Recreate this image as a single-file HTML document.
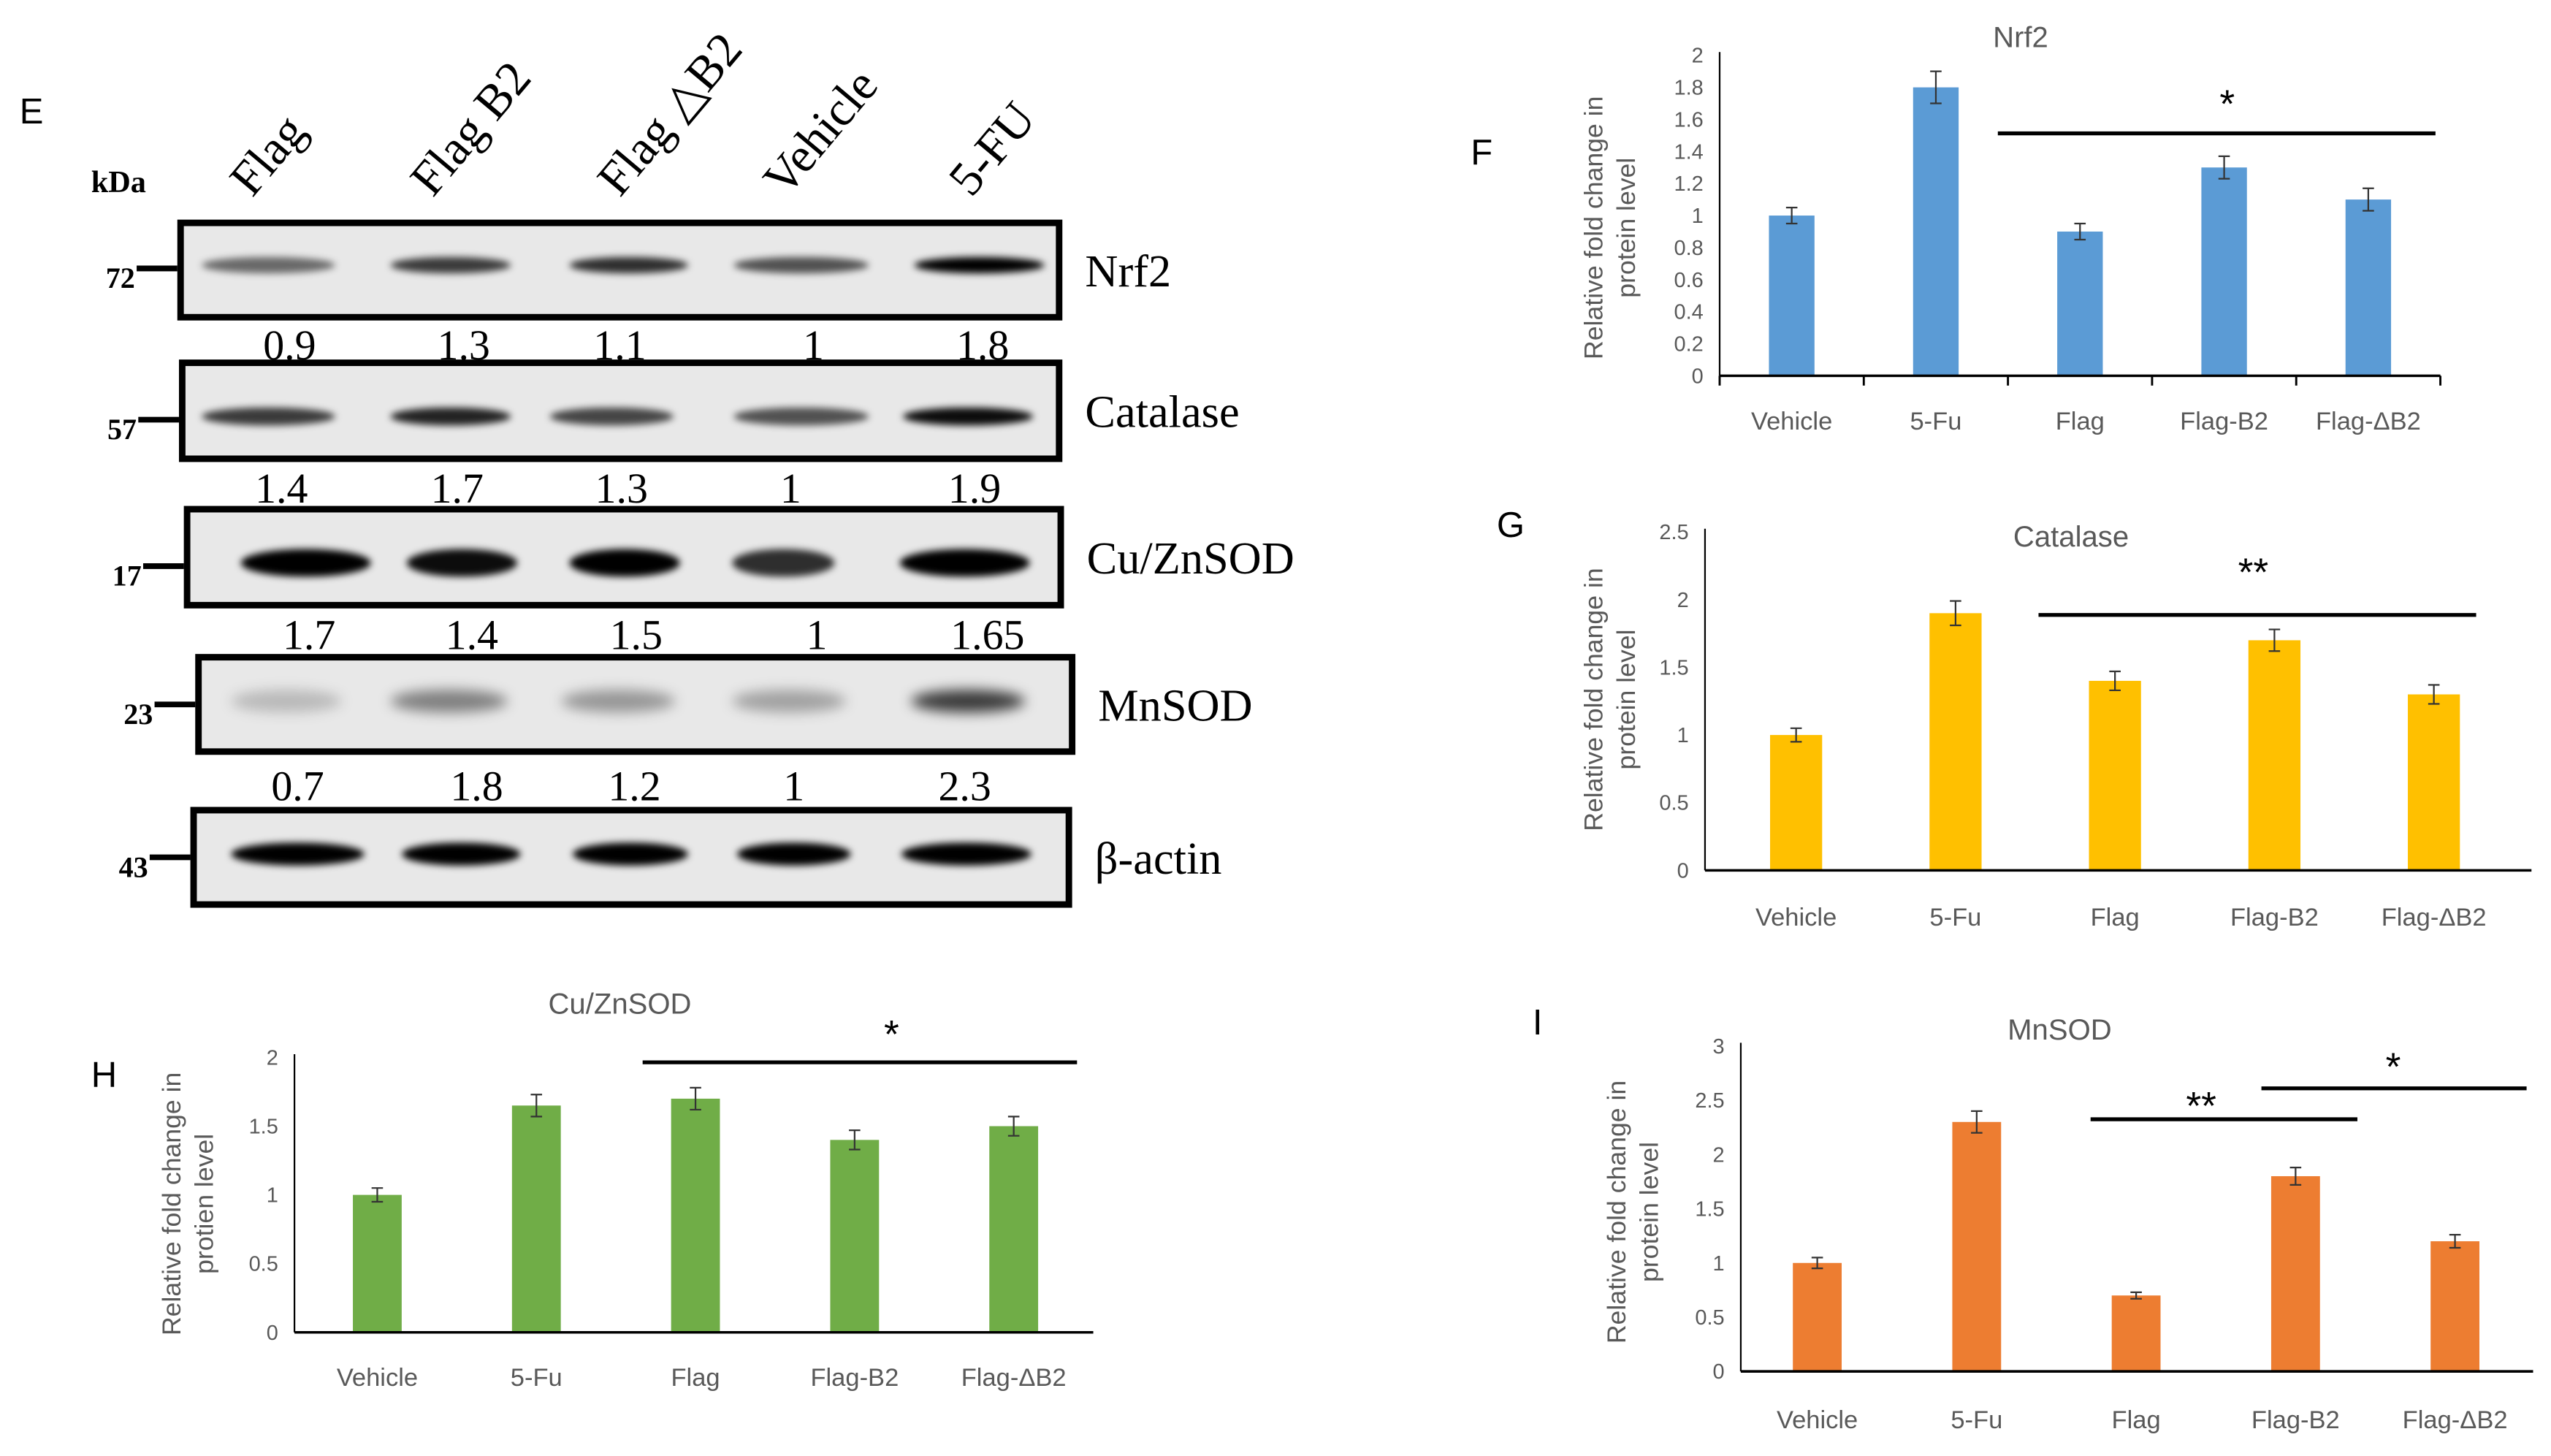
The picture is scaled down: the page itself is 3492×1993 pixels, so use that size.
<!DOCTYPE html>
<html><head><meta charset="utf-8"><style>
html,body{margin:0;padding:0;background:#fff;width:3492px;height:1993px;overflow:hidden}
svg{display:block}
.ser{font-family:"Liberation Serif",serif;fill:#000}
.ax{font-family:"Liberation Sans",sans-serif;fill:#595959}
</style></head><body>
<svg id="fig" width="3492" height="1993" viewBox="0 0 1568 895" preserveAspectRatio="none" xmlns="http://www.w3.org/2000/svg">
<defs>
<filter id="blur" x="-30%" y="-100%" width="160%" height="300%"><feGaussianBlur stdDeviation="2.2"/></filter>
<filter id="blur2" x="-30%" y="-100%" width="160%" height="300%"><feGaussianBlur stdDeviation="4"/></filter>
</defs>
<g id="blot"></g>
<g id="charts"></g>
</svg>
<script>
// ---------- Chart data ----------
const categories = ["Vehicle","5-Fu","Flag","Flag-B2","Flag-\u0394B2"];
const nrf2Values = [1, 1.8, 0.9, 1.3, 1.1];
const nrf2Errors = [0.05, 0.1, 0.05, 0.07, 0.07];
const nrf2Ticks = ["0","0.2","0.4","0.6","0.8","1","1.2","1.4","1.6","1.8","2"];
const catalaseValues = [1, 1.9, 1.4, 1.7, 1.3];
const catalaseErrors = [0.05, 0.09, 0.07, 0.08, 0.07];
const catalaseTicks = ["0","0.5","1","1.5","2","2.5"];
const cuznValues = [1, 1.65, 1.7, 1.4, 1.5];
const cuznErrors = [0.05, 0.08, 0.08, 0.07, 0.07];
const cuznTicks = ["0","0.5","1","1.5","2"];
const mnsodValues = [1, 2.3, 0.7, 1.8, 1.2];
const mnsodErrors = [0.05, 0.1, 0.03, 0.08, 0.06];
const mnsodTicks = ["0","0.5","1","1.5","2","2.5","3"];
// western blot quantification
const blotLanes = ["Flag","Flag B2","Flag \u25B3B2","Vehicle","5-FU"];
const nrf2Blot = ["0.9","1.3","1.1","1","1.8"];
const catalaseBlot = ["1.4","1.7","1.3","1","1.9"];
const cuznBlot = ["1.7","1.4","1.5","1","1.65"];
const mnsodBlot = ["0.7","1.8","1.2","1","2.3"];

const NS="http://www.w3.org/2000/svg";
function mk(parent, tag, attrs, text){
  const e=document.createElementNS(NS,tag);
  for(const k in attrs) e.setAttribute(k,attrs[k]);
  if(text!==undefined) e.textContent=text;
  parent.appendChild(e); return e;
}
const charts=document.getElementById('charts');
const blot=document.getElementById('blot');

function drawChart(cfg){
  const g=mk(charts,'g',{});
  
  
  const n=cfg.values.length;
  const yMax=parseFloat(cfg.ticks[cfg.ticks.length-1]);
  const y=v=>cfg.y0-(v/yMax)*(cfg.y0-cfg.yTop);
  const x=i=>cfg.xs+(i+0.5)*(cfg.xe-cfg.xs)/n;
  cfg.ticks.forEach(t=>{
    const tl=mk(g,'text',{x:cfg.xAxis-10,y:y(parseFloat(t))+4.5,'text-anchor':'end','font-size':13,class:'ax'},t);
    
    
  });
  cfg.values.forEach((v,i)=>{
    const b=mk(g,'rect',{x:x(i)-cfg.bw/2,y:y(v),width:cfg.bw,height:cfg.y0-y(v),fill:cfg.color});
    
    
    const e=cfg.errors[i];
    const eb=mk(g,'path',{d:`M${x(i)},${y(v+e)}V${y(v-e)}M${x(i)-3.5},${y(v+e)}h7M${x(i)-3.5},${y(v-e)}h7`,stroke:'#333',fill:'none','stroke-width':1});
    
    
    const cl=mk(g,'text',{x:x(i),y:cfg.labY,'text-anchor':'middle','font-size':15.5,class:'ax'},categories[i]);
    
    
  });
  const ya=mk(g,'line',{x1:cfg.xAxis,y1:cfg.yTop-2,x2:cfg.xAxis,y2:cfg.y0,stroke:'#000','stroke-width':1});
  
  
  const xa=mk(g,'line',{x1:cfg.xAxis,y1:cfg.y0,x2:cfg.xEnd,y2:cfg.y0,stroke:'#000','stroke-width':1.6});
  
  
  if(cfg.xticks){
    for(let i=0;i<=n;i++){
      const tx=cfg.xs+i*(cfg.xe-cfg.xs)/n;
      mk(g,'line',{x1:tx,y1:cfg.y0,x2:tx,y2:cfg.y0+6,stroke:'#000','stroke-width':1.3});
    }
  }
  const tt=mk(g,'text',{x:cfg.titleX,y:cfg.titleY,'text-anchor':'middle','font-size':18,class:'ax'},cfg.title);
  
  
  const lab=mk(g,'text',{transform:`translate(${cfg.ylx},${cfg.ylc}) rotate(-90)`,'text-anchor':'middle','font-size':16,class:'ax'});
  
  
  mk(lab,'tspan',{x:0,y:0},'Relative fold change in');
  mk(lab,'tspan',{x:0,y:20},cfg.ylab2);
  const pl=mk(g,'text',{x:cfg.letter[0],y:cfg.letter[1],'font-size':22,'font-family':'Liberation Sans, sans-serif',fill:'#000'},cfg.letterT);
  
  
  cfg.sig.forEach(s=>{
    const sl=mk(g,'line',{x1:s[0],y1:s[2],x2:s[1],y2:s[2],stroke:'#000','stroke-width':2.4});
    
    
    const st=mk(g,'text',{x:s[3],y:s[4],'text-anchor':'middle','font-size':24,'font-family':'Liberation Sans, sans-serif',fill:'#000'},s[5]);
    
    
  });
}

drawChart({name:'chart-nrf2',title:'Nrf2',titleX:1242,titleY:29,values:nrf2Values,errors:nrf2Errors,ticks:nrf2Ticks,
  color:'#5B9BD5',xAxis:1057,xs:1057,xe:1500,xEnd:1500,y0:231,yTop:34,bw:28,labY:264,xticks:true,
  ylx:985,ylc:140,ylab2:'protein level',letter:[904,101],letterT:'F',
  sig:[[1228,1497,82,1369,72,'*']]});
drawChart({name:'chart-catalase',title:'Catalase',titleX:1273,titleY:336,values:catalaseValues,errors:catalaseErrors,ticks:catalaseTicks,
  color:'#FFC000',xAxis:1048,xs:1055,xe:1545,xEnd:1556,y0:535,yTop:327,bw:32,labY:569,xticks:false,
  ylx:985,ylc:430,ylab2:'protein level',letter:[920,330],letterT:'G',
  sig:[[1253,1522,378,1385,360,'**']]});
drawChart({name:'chart-cuznsod',title:'Cu/ZnSOD',titleX:381,titleY:623,values:cuznValues,errors:cuznErrors,ticks:cuznTicks,
  color:'#70AD47',xAxis:181,xs:183,xe:672,xEnd:672,y0:819,yTop:650,bw:30,labY:852,xticks:false,
  ylx:111,ylc:740,ylab2:'protien level',letter:[56,668],letterT:'H',
  sig:[[395,662,653,548,644,'*']]});
drawChart({name:'chart-mnsod',title:'MnSOD',titleX:1266,titleY:639,values:mnsodValues,errors:mnsodErrors,ticks:mnsodTicks,
  color:'#ED7D31',xAxis:1070,xs:1068,xe:1558,xEnd:1557,y0:843,yTop:643,bw:30,labY:878,xticks:false,
  ylx:999,ylc:745,ylab2:'protein level',letter:[942,636],letterT:'I',
  sig:[[1285,1449,688,1353,688,'**'],[1390,1553,669,1471,664,'*']]});

// ---------- Western blot ----------
const E=mk(blot,'text',{x:12,y:76,'font-size':22,'font-family':'Liberation Sans, sans-serif',fill:'#000'},'E');


const kda=mk(blot,'text',{x:56,y:118,'font-size':19,'font-weight':'bold',class:'ser'},'kDa');


const laneLabelX=[155,266,381,483,597];
blotLanes.forEach((l,i)=>{
  const t=mk(blot,'text',{transform:`translate(${laneLabelX[i]},${122}) rotate(-50)`,'font-size':30,class:'ser'},l);
  
  
});
const rows=[
  {name:'nrf2',label:'Nrf2',kda:'72',box:[111,137,651,195],band:163,th:10,lanes:[[124,206],[240,314],[350,423],[451,534],[562,642]],int:[0.55,0.75,0.8,0.65,1],vals:nrf2Blot,valY:221,valX:[178,285,381,500,604],blur:'blur'},
  {name:'catalase',label:'Catalase',kda:'57',box:[112,223,651,282],band:256,th:11,lanes:[[124,206],[240,314],[338,414],[451,534],[555,635]],int:[0.75,0.85,0.7,0.65,0.95],vals:catalaseBlot,valY:309,valX:[173,281,382,486,599],blur:'blur'},
  {name:'cuznsod',label:'Cu/ZnSOD',kda:'17',box:[115,313,652,372],band:346,th:17,lanes:[[148,228],[250,318],[350,418],[450,513],[553,633]],int:[1,0.95,1,0.8,1],vals:cuznBlot,valY:399,valX:[190,290,391,502,607],blur:'blur'},
  {name:'mnsod',label:'MnSOD',kda:'23',box:[122,404,659,462],band:431,th:14,lanes:[[142,210],[240,312],[345,415],[450,520],[560,630]],int:[0.2,0.45,0.35,0.3,0.75],vals:mnsodBlot,valY:492,valX:[183,293,390,488,593],blur:'blur2'},
  {name:'beta-actin',label:'\u03B2-actin',kda:'43',box:[119,498,657,556],band:525,th:14,lanes:[[142,224],[247,320],[352,423],[453,523],[554,634]],int:[1,1,1,1,1],vals:null,blur:'blur'}
];
rows.forEach(r=>{
  const g=mk(blot,'g',{});
  
  
  const [x1,y1,x2,y2]=r.box;
  mk(g,'rect',{x:x1,y:y1,width:x2-x1,height:y2-y1,fill:'#e8e8e8'});
  r.lanes.forEach((ln,i)=>{
    const b=mk(g,'ellipse',{cx:(ln[0]+ln[1])/2,cy:r.band,rx:(ln[1]-ln[0])/2,ry:r.th/2,fill:'#000','fill-opacity':r.int[i],filter:`url(#${r.blur})`});
    
    
  });
  mk(g,'rect',{x:x1,y:y1,width:x2-x1,height:y2-y1,fill:'none',stroke:'#000','stroke-width':4});
  const lbl=mk(g,'text',{x:x2+16,y:(y1+y2)/2+10,'font-size':28,class:'ser'},r.label);
  
  
  const k=mk(g,'text',{x:x1-28,y:r.band+14,'text-anchor':'end','font-size':18,'font-weight':'bold',class:'ser'},r.kda);
  
  
  mk(g,'line',{x1:x1-27,y1:r.band+2,x2:x1-2,y2:r.band+2,stroke:'#000','stroke-width':3.5});
  if(r.vals){
    r.vals.forEach((v,i)=>{
      const t=mk(g,'text',{x:r.valX[i],y:r.valY,'text-anchor':'middle','font-size':26,class:'ser'},v);
      
      
    });
  }
});
blot.appendChild(blot.children[4]);
</script>
</body></html>
